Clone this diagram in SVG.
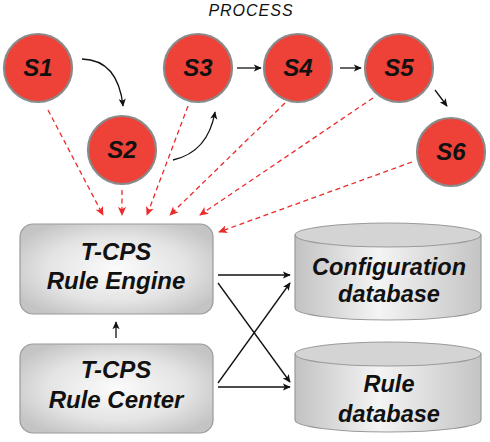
<svg xmlns="http://www.w3.org/2000/svg" width="490" height="442" viewBox="0 0 490 442">
<defs>
<style>
.st{fill:#ee4137;stroke:#8a8a8a;stroke-width:2.2}
.lbl{font-family:"Liberation Sans",Arial,sans-serif;font-weight:bold;font-style:italic;fill:#111;text-anchor:middle}
.sl{font-size:24px}
.bl{font-size:24px}
.dl{font-size:23.5px}
.box{fill:url(#bg);stroke:#9a9a9a;stroke-width:1.2}
.cyl{fill:url(#cg);stroke:#9a9a9a;stroke-width:1.2}
.top{fill:#d4d4d4;stroke:#9a9a9a;stroke-width:1.2}
.blk{fill:none;stroke:#111;stroke-width:1.3}
.red{fill:none;stroke:#ec2a2a;stroke-width:1.3;stroke-dasharray:5 3.5}
</style>
<radialGradient id="bg" cx="0.5" cy="0.5" r="0.6">
<stop offset="0" stop-color="#fbfbfb"/>
<stop offset="0.6" stop-color="#e4e4e4"/>
<stop offset="1" stop-color="#c4c4c4"/>
</radialGradient>
<linearGradient id="cg" x1="0" y1="0" x2="1" y2="0">
<stop offset="0" stop-color="#c2c2c2"/>
<stop offset="0.45" stop-color="#f4f4f4"/>
<stop offset="1" stop-color="#c4c4c4"/>
</linearGradient>
<marker id="ab" viewBox="0 0 10 10" refX="9" refY="5" markerWidth="8" markerHeight="8" markerUnits="userSpaceOnUse" orient="auto">
<path d="M0,0.5 L10,5 L0,9.5 L2.5,5 Z" fill="#111"/>
</marker>
<marker id="ar" viewBox="0 0 10 10" refX="9" refY="5" markerWidth="9" markerHeight="9" markerUnits="userSpaceOnUse" orient="auto">
<path d="M0,0.5 L10,5 L0,9.5 L2.5,5 Z" fill="#ec2a2a"/>
</marker>
</defs>
<rect width="490" height="442" fill="#fff"/>
<text x="251" y="16" font-family="Liberation Sans,Arial,sans-serif" font-style="italic" font-size="16" letter-spacing="1" fill="#111" text-anchor="middle">PROCESS</text>

<g id="connectors">
<path class="blk" d="M82,59 Q118,60 123,106" marker-end="url(#ab)"/>
<path class="blk" d="M173,160 Q208,152 215,112" marker-end="url(#ab)"/>
<path class="blk" d="M237,68 L261,68" marker-end="url(#ab)"/>
<path class="blk" d="M340,68 L361,68" marker-end="url(#ab)"/>
<path class="blk" d="M435,90 L447,106" marker-end="url(#ab)"/>
<path class="red" d="M48,110 L103,215" marker-end="url(#ar)"/>
<path class="red" d="M122,190 L122,215" marker-end="url(#ar)"/>
<path class="red" d="M188,106 L147,215" marker-end="url(#ar)"/>
<path class="red" d="M285,103 L170,215" marker-end="url(#ar)"/>
<path class="red" d="M373,98 L200,215" marker-end="url(#ar)"/>
<path class="red" d="M412,162 L219,232" marker-end="url(#ar)"/>
<path class="blk" d="M116,338 L116,322" marker-end="url(#ab)"/>
<path class="blk" d="M218,275 L290,275" marker-end="url(#ab)"/>
<path class="blk" d="M218,283 L290,382" marker-end="url(#ab)"/>
<path class="blk" d="M218,383 L290,283" marker-end="url(#ab)"/>
<path class="blk" d="M218,387 L290,387" marker-end="url(#ab)"/>
</g>

<g id="S1"><circle class="st" cx="38" cy="68" r="34"/><text class="lbl sl" x="38" y="76">S1</text></g>
<g id="S2"><circle class="st" cx="122" cy="150" r="34"/><text class="lbl sl" x="122" y="158">S2</text></g>
<g id="S3"><circle class="st" cx="198" cy="68" r="34"/><text class="lbl sl" x="198" y="76">S3</text></g>
<g id="S4"><circle class="st" cx="298" cy="68" r="34"/><text class="lbl sl" x="298" y="76">S4</text></g>
<g id="S5"><circle class="st" cx="399" cy="68" r="34"/><text class="lbl sl" x="399" y="76">S5</text></g>
<g id="S6"><circle class="st" cx="451" cy="152" r="34"/><text class="lbl sl" x="451" y="160">S6</text></g>

<g id="engine">
<rect class="box" x="20" y="224" width="193" height="90" rx="13"/>
<text class="lbl bl" x="116" y="260">T-CPS</text>
<text class="lbl bl" x="116" y="289">Rule Engine</text>
</g>
<g id="center">
<rect class="box" x="20" y="344" width="193" height="89" rx="13"/>
<text class="lbl bl" x="116" y="378">T-CPS</text>
<text class="lbl bl" x="116" y="408">Rule Center</text>
</g>
<g id="configdb">
<path class="cyl" d="M295,235 L295,308 A93,12 0 0 0 481,308 L481,235"/>
<ellipse class="top" cx="388" cy="235" rx="93" ry="12"/>
<text class="lbl dl" x="389" y="275">Configuration</text>
<text class="lbl dl" x="389" y="302">database</text>
</g>
<g id="ruledb">
<path class="cyl" d="M295,354 L295,420 A93,12 0 0 0 481,420 L481,354"/>
<ellipse class="top" cx="388" cy="354" rx="93" ry="12"/>
<text class="lbl dl" x="389" y="392">Rule</text>
<text class="lbl dl" x="389" y="422">database</text>
</g>
</svg>
